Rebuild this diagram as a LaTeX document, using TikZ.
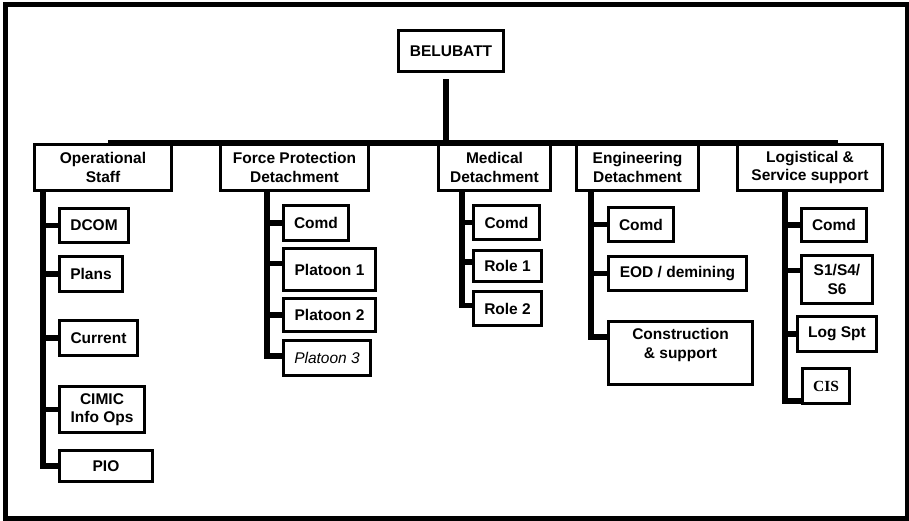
\documentclass[tikz,border=0pt]{standalone}
\usepackage{fontspec}
\setmainfont{Liberation Sans}
\newfontfamily\cisfont{Liberation Serif}
\usetikzlibrary{positioning,calc}

\begin{document}
\begin{tikzpicture}[x=1pt, y=-1pt,
    lbl/.style={font=\bfseries\fontsize{15.5}{18.5}\selectfont},
    box/.style={draw, line width=3pt, fill=white, inner sep=0pt, align=center, lbl},
    conn/.style={line width=5.5pt}]
    \useasboundingbox (0,0) rectangle (909,520);
    \draw[line width=5pt] (5.5,4.5) rectangle (907.5,518.5);

    % Top
    \coordinate (barL) at (108,143);
    \coordinate (barR) at (838,143);
    \draw[conn] (barL) -- (barR);
    \node[box, minimum width=105, minimum height=41] (bel) at (451,51) {BELUBATT};
    \draw[conn, shorten <=6pt] ([xshift=-5pt]bel.south) -- ([xshift=-5pt]bel.south |- barL);

    % Operational Staff
    \coordinate (opsT) at (43,0);
    \node[box, minimum width=137, minimum height=46] (ops) at (103,167.5) {Operational\\Staff};
    \node[box, minimum width=69, minimum height=34] (dcom) at (94,225.5) {DCOM};
    \node[box, minimum width=63, minimum height=35] (plans) at (91,274) {Plans};
    \node[box, minimum width=78, minimum height=35] (cur) at (98.5,338) {Current};
    \node[box, minimum width=85, minimum height=46] (cimic) at (102,409.5) {CIMIC\\Info Ops};
    \node[box, minimum width=93, minimum height=31] (pio) at (106,466) {PIO};
    \draw[conn] (ops.south -| opsT) |- (pio.west);
    \foreach \n in {dcom,plans,cur,cimic}
        \draw[conn] (\n.west) -- (\n.west -| opsT);

    % Force Protection
    \coordinate (fpT) at (267,0);
    \node[box, minimum width=148, minimum height=46] (fp) at (294.5,167.5) {Force Protection\\Detachment};
    \node[box, minimum width=65, minimum height=35] (fpc) at (316,223) {Comd};
    \node[box, minimum width=92, minimum height=42] (p1) at (329.5,269.5) {Platoon 1};
    \node[box, minimum width=92, minimum height=33] (p2) at (329.5,315) {Platoon 2};
    \node[box, minimum width=87, minimum height=35, font=\fontsize{15.5}{18.5}\selectfont\itshape] (p3) at (327,358) {Platoon 3};
    \draw[conn] (fp.south -| fpT) |- ([yshift=2pt]p3.west);
    \draw[conn] (fpc.west) -- (fpc.west -| fpT);
    \draw[conn] ([yshift=6pt]p1.west) -- ([yshift=6pt]p1.west -| fpT);
    \draw[conn] (p2.west) -- (p2.west -| fpT);

    % Medical
    \coordinate (medT) at (462,0);
    \node[box, minimum width=112, minimum height=46] (med) at (494.5,167.5) {Medical\\Detachment};
    \node[box, minimum width=66, minimum height=34] (mc) at (506.5,222.5) {Comd};
    \node[box, minimum width=68, minimum height=31] (r1) at (507.5,266) {Role 1};
    \node[box, minimum width=68, minimum height=34] (r2) at (507.5,308.5) {Role 2};
    \draw[conn] (med.south -| medT) |- ([yshift=3pt]r2.west);
    \draw[conn] (mc.west) -- (mc.west -| medT);
    \draw[conn] ([yshift=4pt]r1.west) -- ([yshift=4pt]r1.west -| medT);

    % Engineering
    \coordinate (engT) at (591,0);
    \node[box, minimum width=122, minimum height=46] (eng) at (637.5,167.5) {Engineering\\Detachment};
    \node[box, minimum width=65, minimum height=34] (ec) at (641,224.5) {Comd};
    \node[box, minimum width=138, minimum height=34] (eod) at (677.5,273.5) {EOD / demining};
    \node[box, minimum width=144, minimum height=63,
        label={[align=center, lbl, yshift=8pt]center:{Construction\\\& support}}] (con) at (680.5,353) {};
    \draw[conn] (eng.south -| engT) |- ([yshift=16pt]con.west);
    \draw[conn] (ec.west) -- (ec.west -| engT);
    \draw[conn] (eod.west) -- (eod.west -| engT);

    % Logistical
    \coordinate (logT) at (785,0);
    \node[box, minimum width=145, minimum height=46] (log) at (810,167.5) {Logistical \&\\Service support};
    \node[box, minimum width=65, minimum height=33] (lc) at (834,225) {Comd};
    \node[box, minimum width=71, minimum height=48] (s146) at (837,279.5) {S1/S4/\\S6};
    \node[box, minimum width=79, minimum height=35] (lsp) at (837,334) {Log Spt};
    \node[box, minimum width=47, minimum height=35, font=\cisfont\bfseries\fontsize{15.5}{18.5}\selectfont] (cis) at (826,386) {CIS};
    \draw[conn] (log.south -| logT) |- ([yshift=-15pt]cis.west);
    \draw[conn] (lc.west) -- (lc.west -| logT);
    \draw[conn] ([yshift=9pt]s146.west) -- ([yshift=9pt]s146.west -| logT);
    \draw[conn] (lsp.west) -- (lsp.west -| logT);
\end{tikzpicture}
\end{document}
